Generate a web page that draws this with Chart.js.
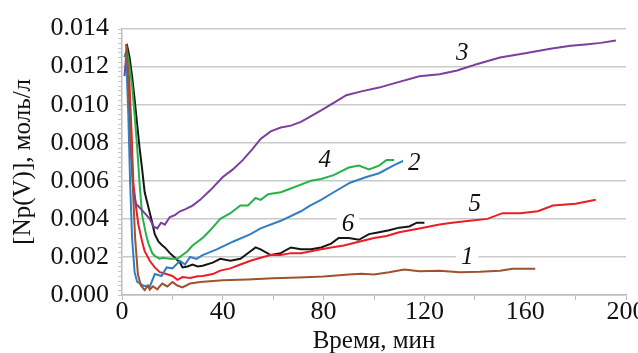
<!DOCTYPE html>
<html>
<head>
<meta charset="utf-8">
<script src="https://cdn.jsdelivr.net/npm/chart.js@4.4.1/dist/chart.umd.min.js"></script>
<style>
  html, body { margin: 0; padding: 0; background: #fff; }
  #npChart { display: block; }
</style>
</head>
<body>
<canvas id="npChart" width="638" height="353"></canvas>
<script>
// time (min) and [Np(V)] (mol/L), one pair per curve

const time1 = [1.6, 2.5, 3.5, 4.4, 5.2, 6.3, 7.5, 9, 10.3, 11, 12.3, 14, 15, 16, 18, 20, 22, 24, 27, 31, 40, 50, 60, 70, 80, 90, 95, 100, 106, 112, 118, 126, 134, 142, 150, 155, 164];
const conc1 = [0.0132, 0.0115, 0.0085, 0.0054, 0.0030, 0.0011, 0.0005, 0.00026, 0.0005, 0.00028, 0.00046, 0.0003, 0.00046, 0.0006, 0.00045, 0.00068, 0.0005, 0.0004, 0.0006, 0.00068, 0.00078, 0.00082, 0.00088, 0.00092, 0.00097, 0.00108, 0.00112, 0.00108, 0.0012, 0.00134, 0.00125, 0.00128, 0.0012, 0.00122, 0.00128, 0.00138, 0.00138];

const time2 = [1, 1.6, 2.5, 3.2, 4, 5, 6, 8.3, 11, 13, 15.7, 17.7, 20, 23, 25, 27, 29.6, 32, 37.6, 44, 51, 55, 63, 71, 74.6, 79, 84, 90.5, 97, 102, 107.6, 114];
const conc2 = [0.0125, 0.0128, 0.0095, 0.006, 0.003, 0.0012, 0.0007, 0.0005, 0.00043, 0.0011, 0.001, 0.00145, 0.0014, 0.0018, 0.0016, 0.002, 0.0019, 0.0021, 0.0024, 0.0028, 0.0032, 0.0035, 0.0039, 0.0044, 0.0047, 0.005, 0.0054, 0.0059, 0.0062, 0.0064, 0.0068, 0.0072];

const time3 = [1, 1.8, 2.5, 3.5, 4.5, 5.5, 7, 9, 11, 12.5, 14, 15.5, 17, 19, 21, 23, 25, 28, 31, 35, 40, 44, 48, 52, 55, 59, 63, 67, 71, 75, 79, 84, 89, 95, 102, 110, 118, 126, 133, 140, 150, 160, 170, 178, 184, 190, 196];
const conc3 = [0.0115, 0.0128, 0.011, 0.0075, 0.0055, 0.0048, 0.0046, 0.0043, 0.004, 0.0036, 0.0035, 0.0038, 0.0037, 0.0041, 0.0042, 0.0044, 0.0045, 0.0047, 0.005, 0.0055, 0.0062, 0.0066, 0.0071, 0.0077, 0.0082, 0.0086, 0.0088, 0.0089, 0.0091, 0.0094, 0.0097, 0.0101, 0.0105, 0.0107, 0.0109, 0.0112, 0.0115, 0.0116, 0.0118, 0.0121, 0.01248, 0.0127, 0.01294, 0.0131, 0.01317, 0.01325, 0.01337];

const time4 = [2, 3, 4, 5, 6, 7, 8, 9.5, 10.5, 12, 13, 15, 16, 19, 22, 24, 26, 28, 30, 32, 35, 39, 43, 47, 50, 53, 55, 58, 63, 67, 71, 75, 79, 84, 90, 94, 98, 102, 105, 108];
const conc4 = [0.0128, 0.012, 0.011, 0.0095, 0.0078, 0.0058, 0.0042, 0.0032, 0.0027, 0.0022, 0.00205, 0.0019, 0.00196, 0.0019, 0.0019, 0.0021, 0.0023, 0.0026, 0.0028, 0.003, 0.0034, 0.004, 0.0043, 0.0047, 0.0047, 0.0051, 0.005, 0.0053, 0.0054, 0.0056, 0.0058, 0.006, 0.0061, 0.0063, 0.0067, 0.0068, 0.0066, 0.0068, 0.0071, 0.0071];

const time5 = [1.5, 2, 3, 3.8, 4.5, 5.5, 6.5, 8, 9, 11, 13, 15, 17, 20, 22, 24, 27, 30, 32, 36, 39, 43, 47, 51, 55, 59, 63, 67, 71, 75, 79, 83, 88, 94, 100, 105, 110, 118, 126, 131, 138, 145, 151, 158, 165, 171, 180, 184, 188];
const conc5 = [0.0125, 0.0128, 0.011, 0.0085, 0.0059, 0.0047, 0.0037, 0.0028, 0.0023, 0.0018, 0.00145, 0.0012, 0.00113, 0.001, 0.0008, 0.00094, 0.0009, 0.00098, 0.001, 0.0011, 0.00128, 0.0014, 0.0016, 0.0018, 0.00196, 0.0021, 0.0021, 0.0022, 0.0022, 0.0023, 0.0024, 0.0025, 0.0026, 0.0028, 0.003, 0.0031, 0.0033, 0.0035, 0.0037, 0.0038, 0.0039, 0.004, 0.0043, 0.0043, 0.0044, 0.0047, 0.0048, 0.0049, 0.005];

const time6 = [1.5, 2.2, 3, 4, 5, 6, 7, 8, 9, 10.5, 12, 13, 14.5, 16, 17, 19, 21, 23, 24, 26, 28, 30, 32, 36, 39, 43, 47, 51, 53, 55, 59, 63, 67, 71, 75, 79, 83, 86, 90, 94, 98, 102, 106, 110, 114, 117, 120];
const conc6 = [0.0125, 0.013, 0.0125, 0.0115, 0.0103, 0.009, 0.0077, 0.0066, 0.0054, 0.0046, 0.0038, 0.0032, 0.0028, 0.0026, 0.0025, 0.0022, 0.00196, 0.0017, 0.00145, 0.0015, 0.0016, 0.0015, 0.00154, 0.0017, 0.0019, 0.0018, 0.0019, 0.0023, 0.0025, 0.0024, 0.0021, 0.0022, 0.0025, 0.0024, 0.0024, 0.0025, 0.0027, 0.003, 0.003, 0.0029, 0.0032, 0.0033, 0.0034, 0.00354, 0.0036, 0.0038, 0.0038];

const curveNames = ['1', '2', '3', '4', '5', '6'];
const curveColors = ['#a0522d', '#2f7ec6', '#7b3f9e', '#27b14a', '#ee1c25', '#151515'];
// where the curve numbers sit (in data units)
const labelTimes = [137, 116, 135, 80.5, 140, 89.7];
const labelConcs = [0.00195, 0.0069, 0.0127, 0.00708, 0.00477, 0.0037];

const xTickValues = [0, 20, 40, 60, 80, 100, 120, 140, 160, 180, 200];
const yTickValues = [0, 0.002, 0.004, 0.006, 0.008, 0.010, 0.012, 0.014];

const serif = '"Liberation Serif", "Times New Roman", serif';

function toPoints(t, c) {
    return t.map((x, i) => ({ x: x, y: c[i] }));
}

const series = [
    toPoints(time1, conc1), toPoints(time2, conc2), toPoints(time3, conc3),
    toPoints(time4, conc4), toPoints(time5, conc5), toPoints(time6, conc6)
];

// small marks on the y axis between the grid lines
const minorTicks = {
    id: 'minorTicks',
    afterDraw(chart) {
        const ctx = chart.ctx;
        const y = chart.scales.y;
        const left = chart.chartArea.left;
        ctx.save();
        ctx.strokeStyle = '#c4c4c4';
        ctx.lineWidth = 1;
        for (let v = 0; v <= 0.014 + 1e-9; v += 0.00025) {
            const py = Math.round(y.getPixelForValue(v)) + 0.5;
            ctx.beginPath();
            ctx.moveTo(left - 4, py);
            ctx.lineTo(left, py);
            ctx.stroke();
        }
        ctx.restore();
    }
};

// italic curve numbers on a white patch
const curveLabels = {
    id: 'curveLabels',
    afterDatasetsDraw(chart) {
        const ctx = chart.ctx;
        const xs = chart.scales.x;
        const ys = chart.scales.y;
        ctx.save();
        ctx.font = 'italic 25px ' + serif;
        ctx.textAlign = 'center';
        ctx.textBaseline = 'middle';
        curveNames.forEach((name, i) => {
            const px = xs.getPixelForValue(labelTimes[i]);
            const py = ys.getPixelForValue(labelConcs[i]);
            const w = ctx.measureText(name).width + 10;
            ctx.fillStyle = '#fff';
            ctx.fillRect(px - w / 2, py - 11, w, 22);
            ctx.fillStyle = '#111';
            ctx.fillText(name, px, py);
        });
        ctx.restore();
    }
};

const ctx = document.getElementById('npChart').getContext('2d');
const npChart = new Chart(ctx, {
    type: 'line',
    data: {
        datasets: series.map((pts, i) => ({
            label: curveNames[i],
            data: pts,
            borderColor: curveColors[i],
            borderWidth: 2,
            pointRadius: 0,
            tension: 0,
            fill: false
        }))
    },
    options: {
        responsive: false,
        animation: false,
        layout: { padding: { top: 22, right: 12, left: 0, bottom: 0 } },
        plugins: {
            legend: { display: false },
            tooltip: { enabled: false }
        },
        scales: {
            x: {
                type: 'linear',
                min: 0,
                max: 200,
                afterBuildTicks: (scale) => { scale.ticks = xTickValues.map(v => ({ value: v })); },
                afterFit: (scale) => { scale.height = 58; scale.paddingLeft = 0; scale.paddingRight = 0; },
                ticks: {
                    autoSkip: false,
                    maxRotation: 0,
                    padding: -1,
                    color: '#111',
                    font: { family: serif, size: 26, lineHeight: 1 },
                    callback: (v) => (Math.round(v) % 40 === 0 ? String(Math.round(v)) : '')
                },
                grid: {
                    drawOnChartArea: false,
                    drawTicks: true,
                    tickLength: 5,
                    color: '#bdbdbd',
                    lineWidth: 1
                },
                border: { color: '#bdbdbd', width: 1.5 },
                title: {
                    display: true,
                    text: 'Время, мин',
                    color: '#111',
                    font: { family: serif, size: 25, lineHeight: 0.9 },
                    padding: { top: 0, bottom: 0 }
                }
            },
            y: {
                min: 0,
                max: 0.014,
                afterBuildTicks: (scale) => { scale.ticks = yTickValues.map(v => ({ value: v })); },
                afterFit: (scale) => { scale.width = 122; },
                ticks: {
                    padding: 13,
                    color: '#111',
                    font: { family: serif, size: 26 },
                    callback: (v) => Number(v).toFixed(3)
                },
                grid: {
                    drawTicks: false,
                    color: '#cacaca',
                    lineWidth: 1.5
                },
                border: { color: '#bdbdbd', width: 1.5 },
                title: {
                    display: true,
                    text: '[Np(V)], моль/л',
                    color: '#111',
                    font: { family: serif, size: 25 },
                    padding: { top: 8, bottom: 0 }
                }
            }
        }
    },
    plugins: [minorTicks, curveLabels]
});
</script>
</body>
</html>
